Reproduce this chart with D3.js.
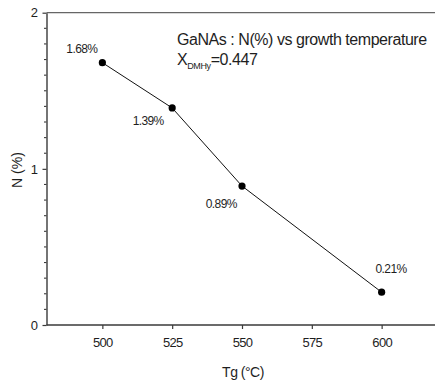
<!DOCTYPE html>
<html>
<head>
<meta charset="utf-8">
<script src="https://cdn.jsdelivr.net/npm/d3@7"></script>
<style>
  html, body { margin: 0; padding: 0; background: #fff; }
  svg { display: block; font-family: "Liberation Sans", Arial, sans-serif; }
</style>
</head>
<body>
<svg id="chart" width="435" height="383"></svg>
<script>
// Growth temperature (°C) and nitrogen content (%)
const temperatures = [500, 525, 550, 600];
const nitrogen = [1.68, 1.39, 0.89, 0.21];
const pointLabels = ["1.68%", "1.39%", "0.89%", "0.21%"];
const xTicks = [500, 525, 550, 575, 600];
const yTicks = [0, 1, 2];

// Label placement relative to each point (dx, dy)
const labelOffsets = [[-20.5, -10], [-24, 17], [-20.7, 22.3], [9.4, -19.5]];

const svg = d3.select("#chart");
const plotLeft = 46.5, plotRight = 437.5, plotTop = 12.7, plotBottom = 325;

const x = d3.scaleLinear().domain([480, 620]).range([plotLeft, plotRight]);
const y = d3.scaleLinear().domain([0, 2]).range([plotBottom, plotTop]);

const axisColor = "#3a3a3a";
const textColor = "#1e1e1e";

// top frame line
svg.append("line")
  .attr("x1", plotLeft).attr("x2", 435).attr("y1", plotTop).attr("y2", plotTop)
  .attr("stroke", "#666").attr("stroke-width", 1.2);

// x axis
const gx = svg.append("g")
  .attr("transform", `translate(0,${plotBottom})`)
  .call(d3.axisBottom(x).tickValues(xTicks).tickSize(4).tickPadding(9).tickSizeOuter(0));
gx.select(".domain").attr("stroke", axisColor).attr("stroke-width", 1.4)
  .attr("d", `M${plotLeft},0H435`);
gx.selectAll(".tick line").attr("stroke", axisColor).attr("stroke-width", 1.2);
gx.selectAll(".tick text").attr("fill", textColor)
  .style("font-size", "13px").style("letter-spacing", "-0.7px");

// y axis minor ticks
const minor = d3.range(0, 2.0001, 0.1).filter(v => Math.abs(v - Math.round(v)) > 1e-6);
svg.append("g").selectAll("line").data(minor).join("line")
  .attr("x1", plotLeft - 2.5).attr("x2", plotLeft)
  .attr("y1", d => y(d)).attr("y2", d => y(d))
  .attr("stroke", axisColor).attr("stroke-width", 1.1);

// y axis
const gy = svg.append("g")
  .attr("transform", `translate(${plotLeft},0)`)
  .call(d3.axisLeft(y).tickValues(yTicks).tickFormat(d3.format("d")).tickSize(4).tickPadding(4.5).tickSizeOuter(0));
gy.select(".domain").attr("stroke", axisColor).attr("stroke-width", 1.4);
gy.selectAll(".tick line").attr("stroke", axisColor).attr("stroke-width", 1.2);
gy.selectAll(".tick text").attr("fill", textColor).style("font-size", "13px");

// data line
const pts = temperatures.map((t, i) => [t, nitrogen[i]]);
svg.append("path")
  .datum(pts)
  .attr("fill", "none").attr("stroke", "#111").attr("stroke-width", 1)
  .attr("d", d3.line().x(d => x(d[0])).y(d => y(d[1])));

// markers
svg.append("g").selectAll("circle").data(pts).join("circle")
  .attr("cx", d => x(d[0])).attr("cy", d => y(d[1])).attr("r", 3.6)
  .attr("fill", "#000");

// value labels
svg.append("g").selectAll("text").data(pts).join("text")
  .attr("x", (d, i) => x(d[0]) + labelOffsets[i][0])
  .attr("y", (d, i) => y(d[1]) + labelOffsets[i][1])
  .attr("text-anchor", "middle")
  .attr("fill", textColor)
  .style("font-size", "12px").style("letter-spacing", "-0.6px")
  .text((d, i) => pointLabels[i]);

// annotation
svg.append("text")
  .attr("x", 177).attr("y", 45)
  .attr("fill", textColor)
  .style("font-size", "16px").style("letter-spacing", "-0.45px")
  .text("GaNAs : N(%) vs growth temperature");

const sub = svg.append("text")
  .attr("x", 177).attr("y", 65)
  .attr("fill", textColor)
  .style("font-size", "16px").style("letter-spacing", "-0.45px");
sub.append("tspan").text("X");
sub.append("tspan").attr("dy", 4).style("font-size", "9px").style("letter-spacing", "-0.4px").text("DMHy");
sub.append("tspan").attr("dy", -4).text("=0.447");

// axis titles
svg.append("text")
  .attr("x", 243).attr("y", 377)
  .attr("text-anchor", "middle")
  .attr("fill", textColor)
  .style("font-size", "14px").style("letter-spacing", "-0.5px")
  .text("Tg (°C)");

svg.append("text")
  .attr("transform", "translate(22,170) rotate(-90)")
  .attr("text-anchor", "middle")
  .attr("fill", textColor)
  .style("font-size", "14px")
  .text("N (%)");
</script>
</body>
</html>
